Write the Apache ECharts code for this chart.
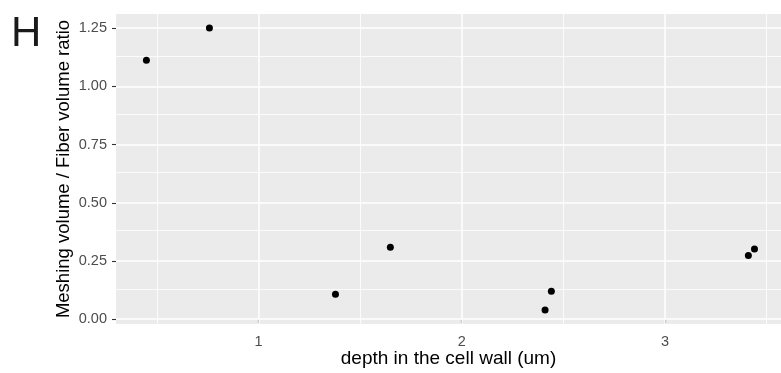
<!DOCTYPE html>
<html>
<head>
<meta charset="utf-8">
<script src="https://cdn.jsdelivr.net/npm/echarts@6/dist/echarts.min.js"></script>
<style>html,body{margin:0;padding:0;background:#fff}#c{width:781px;height:373px}</style>
</head>
<body>
<div id="c"></div>
<script>
const depth = [0.449, 0.759, 1.379, 1.649, 2.410, 2.441, 3.410, 3.440];
const ratio = [1.112, 1.250, 0.107, 0.309, 0.040, 0.120, 0.274, 0.301];
const xTicks = [1, 2, 3];
const yTicks = [0, 0.25, 0.5, 0.75, 1, 1.25];
const xMinor = [0.5, 1.5, 2.5, 3.5];
const yMinor = [0.125, 0.375, 0.625, 0.875, 1.125];

const FONT = "'Liberation Sans', Arial, Helvetica, sans-serif";
const chart = echarts.init(document.getElementById('c'), null, {renderer: 'canvas'});

function vline(v, w) { return {xAxis: v, lineStyle: {width: w}}; }
function hline(v, w) { return {yAxis: v, lineStyle: {width: w}}; }
const gridLines = []
  .concat(xMinor.map(v => vline(v, 0.8)))
  .concat(yMinor.map(v => hline(v, 0.8)))
  .concat(xTicks.map(v => vline(v, 1.5)))
  .concat(yTicks.map(v => hline(v, 1.5)));

chart.setOption({
  animation: false,
  backgroundColor: '#ffffff',
  title: {
    text: 'H', left: 6, top: 8,
    textStyle: {fontFamily: FONT, fontSize: 42, fontWeight: 'normal', color: '#1a1a1a'}
  },
  grid: {left: 116, right: 0, top: 14, height: 310, show: true, backgroundColor: '#EBEBEB', borderWidth: 0,
    containLabel: false, outerBoundsMode: 'none'},
  xAxis: {
    type: 'value', min: 0.2995, max: 3.5705,
    name: 'depth in the cell wall (um)', nameLocation: 'middle', nameGap: 25, nameMoveOverlap: false,
    nameTextStyle: {fontFamily: FONT, fontSize: 19, color: '#000'},
    axisLine: {show: false},
    axisTick: {show: true, length: 4, customValues: xTicks, lineStyle: {color: '#333333', width: 1.1}},
    axisLabel: {customValues: xTicks, margin: 10, fontFamily: FONT, fontSize: 14.5, color: '#4D4D4D'},
    splitLine: {show: false}
  },
  yAxis: {
    type: 'value', min: -0.0205, max: 1.3105,
    name: 'Meshing volume / Fiber volume ratio', nameLocation: 'middle', nameGap: 43, nameMoveOverlap: false,
    nameTextStyle: {fontFamily: FONT, fontSize: 18.5, color: '#000'},
    axisLine: {show: false},
    axisTick: {show: true, length: 4, customValues: yTicks, lineStyle: {color: '#333333', width: 1.1}},
    axisLabel: {customValues: yTicks, margin: 9, fontFamily: FONT, fontSize: 14.5, color: '#4D4D4D',
      formatter: v => Number(v).toFixed(2)},
    splitLine: {show: false}
  },
  series: [
    {
      type: 'scatter', data: [], z: 1, silent: true,
      markLine: {
        silent: true, symbol: ['none', 'none'], label: {show: false},
        lineStyle: {type: 'solid', color: '#FFFFFF', opacity: 1},
        emphasis: {disabled: true},
        data: gridLines
      }
    },
    {
      type: 'scatter', z: 5, symbolSize: 7,
      itemStyle: {color: '#000000', opacity: 1},
      data: depth.map((d, i) => [d, ratio[i]])
    }
  ]
});
</script>
</body>
</html>
